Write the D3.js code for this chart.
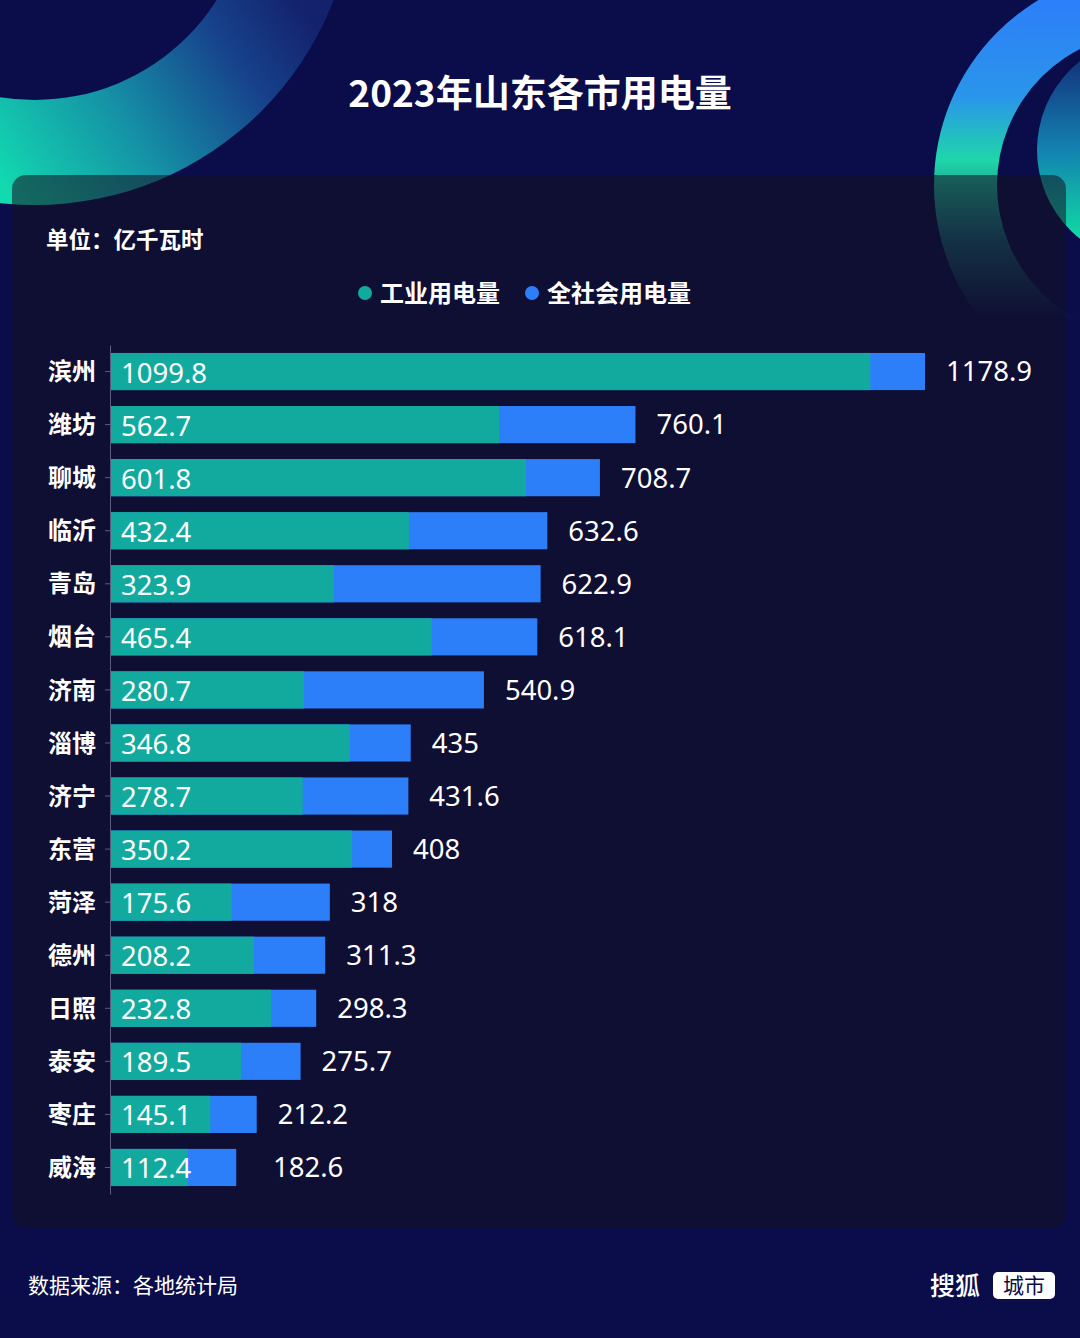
<!DOCTYPE html>
<html>
<head>
<meta charset="utf-8">
<script src="https://cdn.jsdelivr.net/npm/d3@7"></script>
<style>
  body { margin:0; background:#0a0d4a; }
  svg { display:block; }
</style>
</head>
<body>
<svg id="canvas"></svg>
<script>
// data (亿千瓦时)
var cities = ["滨州","潍坊","聊城","临沂","青岛","烟台","济南","淄博","济宁","东营","菏泽","德州","日照","泰安","枣庄","威海"];
var industrial = [1099.8,562.7,601.8,432.4,323.9,465.4,280.7,346.8,278.7,350.2,175.6,208.2,232.8,189.5,145.1,112.4];
var total = [1178.9,760.1,708.7,632.6,622.9,618.1,540.9,435,431.6,408,318,311.3,298.3,275.7,212.2,182.6];
var seriesNames = ["工业用电量","全社会用电量"];

var W = 1080, H = 1338;
var TEAL = "#12aa9e", BLUE = "#2d7ff9";
var CJK = "'Noto Sans CJK SC', 'Noto Sans', sans-serif";
var NUM = "'Noto Sans', 'Open Sans', sans-serif";

var rows = cities.map(function(c,i) {
  return { city:c, ind:industrial[i], tot:total[i] };
});

var svg = d3.select("#canvas").attr("width",W).attr("height",H);
var defs = svg.append("defs");

svg.append("rect").attr("width",W).attr("height",H).attr("fill","#0a0d4a");

// background rings (gradients in page coords, shifted by each ring's centre)
var cL = [35,-115], cR = [1150,185];

var g1 = defs.append("linearGradient").attr("id","ringL")
  .attr("gradientUnits","userSpaceOnUse")
  .attr("x1",10 - cL[0]).attr("y1",200 - cL[1])
  .attr("x2",300 - cL[0]).attr("y2",0 - cL[1]);
g1.append("stop").attr("offset",0).attr("stop-color","#12dab0");
g1.append("stop").attr("offset",0.4).attr("stop-color","#1590a6");
g1.append("stop").attr("offset",0.75).attr("stop-color","#17428c");
g1.append("stop").attr("offset",1).attr("stop-color","#14216c");

var g2 = defs.append("linearGradient").attr("id","ringR")
  .attr("gradientUnits","userSpaceOnUse")
  .attr("x1",0).attr("y1",0 - cR[1]).attr("x2",0).attr("y2",320 - cR[1]);
g2.append("stop").attr("offset",0).attr("stop-color","#2d7ff9");
g2.append("stop").attr("offset",0.3).attr("stop-color","#2a95ea");
g2.append("stop").attr("offset",0.5).attr("stop-color","#1fd6aa");
g2.append("stop").attr("offset",0.75).attr("stop-color","#155a70");
g2.append("stop").attr("offset",1).attr("stop-color","#0a0d4a");

var g3 = defs.append("linearGradient").attr("id","disc")
  .attr("gradientUnits","userSpaceOnUse")
  .attr("x1",0).attr("y1",40).attr("x2",0).attr("y2",255);
g3.append("stop").attr("offset",0).attr("stop-color","#132270");
g3.append("stop").attr("offset",0.5).attr("stop-color","#1380b0");
g3.append("stop").attr("offset",1).attr("stop-color","#10eaa0");

var ring = d3.arc().startAngle(0).endAngle(2*Math.PI);

svg.append("path")
  .attr("transform","translate(" + cL + ")")
  .attr("d",ring({innerRadius:215, outerRadius:320}))
  .attr("fill","url(#ringL)");

svg.append("circle")
  .attr("cx",1150).attr("cy",150).attr("r",113)
  .attr("fill","url(#disc)");

svg.append("path")
  .attr("transform","translate(" + cR + ")")
  .attr("d",ring({innerRadius:153, outerRadius:216}))
  .attr("fill","url(#ringR)");

// panel
svg.append("rect")
  .attr("x",12).attr("y",175).attr("width",1054).attr("height",1053)
  .attr("rx",14)
  .attr("fill","rgb(20,17,32)").attr("fill-opacity",0.55);

// title
svg.append("text")
  .attr("x",W/2).attr("y",107)
  .attr("text-anchor","middle")
  .attr("fill","white")
  .attr("font-family",CJK).attr("font-weight",700).attr("font-size",37)
  .text("2023年山东各市用电量");

svg.append("text")
  .attr("x",46).attr("y",248)
  .attr("fill","white")
  .attr("font-family",CJK).attr("font-weight",700).attr("font-size",22.5)
  .text("单位：亿千瓦时");

// legend
var legend = svg.append("g").selectAll("g")
  .data(seriesNames).enter().append("g")
  .attr("transform",function(d,i) { return "translate(" + (i ? 532 : 365) + ",293)"; });
legend.append("circle").attr("r",7)
  .attr("fill",function(d,i) { return i ? BLUE : TEAL; });
legend.append("text")
  .attr("x",15).attr("y",9)
  .attr("fill","white")
  .attr("font-family",CJK).attr("font-weight",700).attr("font-size",24)
  .text(function(d) { return d; });

// scales
var x = d3.scaleLinear().domain([0,1178.9]).range([110,925]);
var y = d3.scaleBand().domain(cities).range([345,1194])
  .paddingInner(0.3).paddingOuter(0.15);

var bars = svg.append("g");

bars.selectAll("rect.tot")
  .data(rows).enter().append("rect")
  .attr("class","tot")
  .attr("x",x(0))
  .attr("y",function(d) { return y(d.city); })
  .attr("width",function(d) { return x(d.tot) - x(0); })
  .attr("height",y.bandwidth())
  .attr("fill",BLUE);

bars.selectAll("rect.ind")
  .data(rows).enter().append("rect")
  .attr("class","ind")
  .attr("x",x(0))
  .attr("y",function(d) { return y(d.city); })
  .attr("width",function(d) { return x(d.ind) - x(0); })
  .attr("height",y.bandwidth())
  .attr("fill",TEAL);

// axis
var axis = svg.append("g")
  .attr("transform","translate(" + x(0) + ",0)")
  .call(d3.axisLeft(y).tickSize(5).tickSizeOuter(0).tickPadding(9));
axis.select(".domain").attr("stroke","#5a5c80");
axis.selectAll(".tick line").attr("stroke","#5a5c80");
axis.selectAll(".tick text")
  .attr("fill","white")
  .attr("font-family",CJK).attr("font-weight",700).attr("font-size",24)
  .attr("dy","0.36em");

// value labels
bars.selectAll("text.ind")
  .data(rows).enter().append("text")
  .attr("x",x(0) + 11)
  .attr("y",function(d) { return y(d.city) + y.bandwidth()/2; })
  .attr("dy","0.4em")
  .attr("fill","white")
  .attr("font-family",NUM).attr("font-size",27.5)
  .text(function(d) { return d.ind; });

bars.selectAll("text.tot")
  .data(rows).enter().append("text")
  .attr("x",function(d) { return Math.max(x(d.tot) + 21, x(0) + 163); })
  .attr("y",function(d) { return y(d.city) + y.bandwidth()/2; })
  .attr("dy","0.36em")
  .attr("fill","white")
  .attr("font-family",NUM).attr("font-size",27.5)
  .text(function(d) { return d.tot; });

// footer
svg.append("text")
  .attr("x",28).attr("y",1293)
  .attr("fill","white")
  .attr("font-family",CJK).attr("font-size",21)
  .text("数据来源：各地统计局");

svg.append("text")
  .attr("x",930).attr("y",1295)
  .attr("fill","white")
  .attr("font-family",CJK).attr("font-weight",500).attr("font-size",25)
  .text("搜狐");

svg.append("rect")
  .attr("x",993).attr("y",1272).attr("width",62).attr("height",27)
  .attr("rx",5).attr("fill","white");

svg.append("text")
  .attr("x",1024).attr("y",1293)
  .attr("text-anchor","middle")
  .attr("fill","#0a0d4a")
  .attr("font-family",CJK).attr("font-size",21)
  .text("城市");
</script>
</body>
</html>
